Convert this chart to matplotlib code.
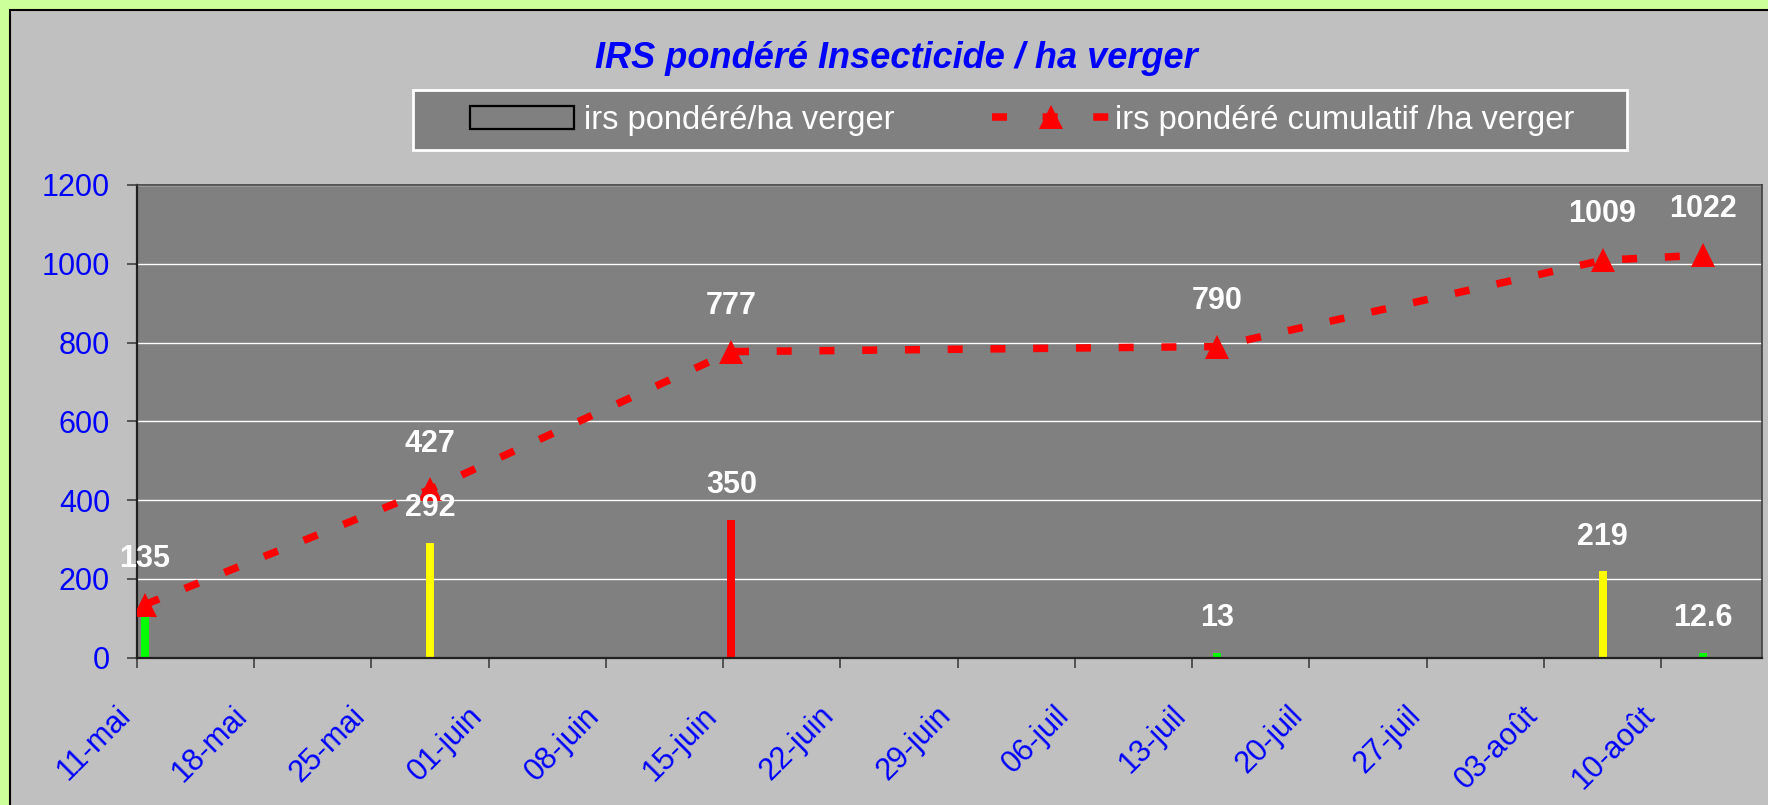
import numpy as np
import pandas as pd
import matplotlib
matplotlib.use("Agg")
import matplotlib.pyplot as plt
import matplotlib.dates as mdates
from matplotlib.patches import Rectangle, Patch
from matplotlib.lines import Line2D
from matplotlib.legend_handler import HandlerLine2D

plt.rcParams['font.family'] = ['Liberation Sans', 'DejaVu Sans']

# data
dates = ['2009-05-11', '2009-05-28', '2009-06-15', '2009-07-14', '2009-08-06', '2009-08-12']
irs = [135, 292, 350, 13, 219, 12.6]
cumul = [135, 427, 777, 790, 1009, 1022]
bar_colors = ['#00ff00', '#ffff00', '#ff0000', '#00ff00', '#ffff00', '#00ff00']
tick_labels = ['11-mai', '18-mai', '25-mai', '01-juin', '08-juin', '15-juin', '22-juin',
               '29-juin', '06-juil', '13-juil', '20-juil', '27-juil', '03-août', '10-août']
yticks = [0, 200, 400, 600, 800, 1000, 1200]


class LongLineHandler(HandlerLine2D):
    # line handle a bit longer than the bar patch, like excel draws it
    def create_artists(self, legend, orig_handle, xdescent, ydescent, width, height, fontsize, trans):
        left, right = 6.5, 3.6
        return super().create_artists(legend, orig_handle, xdescent + left, ydescent,
                                      width + left + right, height, fontsize, trans)


W, H = 1768, 805
fig = plt.figure(figsize=(W / 100, H / 100), dpi=100, facecolor='#ccff99')

# chart area
fig.patches.append(Rectangle((10 / W, -0.05), 1.1, 1 - 10 / H + 0.05, transform=fig.transFigure,
                             facecolor='#c0c0c0', edgecolor='black', lw=1.5, zorder=-2))
# legend box
fig.patches.append(Rectangle((413 / W, 1 - 150 / H), (1627 - 413) / W, 60 / H, transform=fig.transFigure,
                             facecolor='#808080', edgecolor='white', lw=2, zorder=-1))

ax = fig.add_axes([136.7 / W, 1 - 657.7 / H, (1761.7 - 136.7) / W, (657.7 - 185) / H])
ax.set_facecolor('#808080')

x = mdates.date2num(pd.to_datetime(dates)) + 0.5
start = mdates.date2num(pd.Timestamp(dates[0]))
tick_pos = start + 7 * np.arange(len(tick_labels))

ax.bar(x, irs, width=0.48, color=bar_colors, zorder=2)
line, = ax.plot(x, cumul, color='red', lw=5.4, marker='^', markersize=17,
                markeredgewidth=0, zorder=3)
line.set_dashes((2.0, 3.7))

for xi, v, c in zip(x, irs, cumul):
    if v == c:
        continue  # same number as the cumulative label, drawn once
    ax.annotate(f"{v:g}", (xi, v), xytext=(0, 25), textcoords='offset points', ha='center',
                va='center', color='white', fontsize=22, fontweight='bold', zorder=4)
for xi, v in zip(x, cumul):
    ax.annotate(f"{v:g}", (xi, v), xytext=(0, 33), textcoords='offset points', ha='center',
                va='center', color='white', fontsize=22, fontweight='bold', zorder=4)

ax.set_xlim(start, start + 97)
ax.set_ylim(0, 1200)
ax.set_yticks(yticks)
ax.set_xticks(tick_pos)
ax.set_xticklabels(tick_labels, rotation=45, ha='right', va='bottom', rotation_mode='anchor')
ax.grid(axis='y', color='white', lw=1.0, zorder=1)
ax.set_axisbelow(True)
ax.tick_params(axis='both', colors='#404040', labelcolor='#0000ff', labelsize=22,
               length=7.2, width=1.2, direction='out')
ax.tick_params(axis='y', pad=12)
ax.tick_params(axis='x', pad=39)
for s in ['top', 'right']:
    ax.spines[s].set_color('#404040')
    ax.spines[s].set_linewidth(1.2)
for s in ['left', 'bottom']:
    ax.spines[s].set_color('#202020')
    ax.spines[s].set_linewidth(1.6)

fig.text(896 / W, 1 - 58 / H, 'IRS pondéré Insecticide / ha verger', ha='center', va='center',
         color='#0000ff', fontsize=26, fontweight='bold', fontstyle='italic')

bar_handle = Patch(facecolor='#808080', edgecolor='black', lw=1.6)
line_handle = Line2D([], [], color='red', lw=5.4, dashes=(2.0, 4.75), marker='^', markersize=17,
                     markeredgewidth=0)
fig.legend([bar_handle, line_handle], ['irs pondéré/ha verger', 'irs pondéré cumulatif /ha verger'],
           loc='center left', bbox_to_anchor=(470 / W, 1 - 120 / H), bbox_transform=fig.transFigure,
           ncol=2, frameon=False, borderpad=0, borderaxespad=0, fontsize=23.5, labelcolor='white',
           handlelength=3.2, handletextpad=0.3, columnspacing=3.25, numpoints=1,
           handler_map={line_handle: LongLineHandler()})

fig.savefig('out.png', dpi=100, facecolor=fig.get_facecolor())
